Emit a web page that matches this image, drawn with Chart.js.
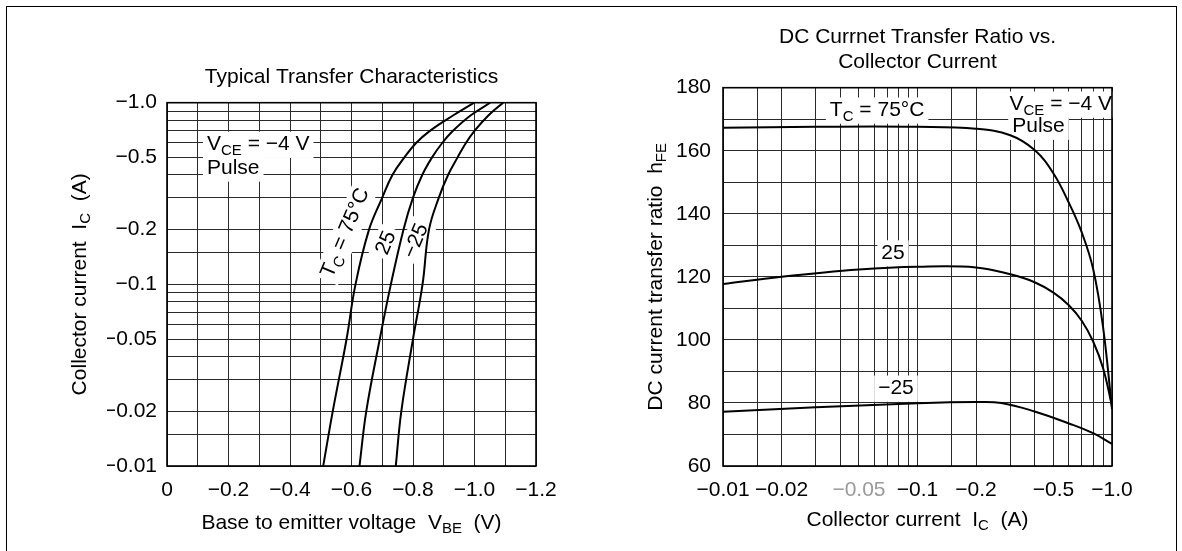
<!DOCTYPE html>
<html>
<head>
<meta charset="utf-8">
<script src="https://cdn.jsdelivr.net/npm/chart.js@4.4.1/dist/chart.umd.min.js"></script>
<style>
  html, body { margin: 0; padding: 0; background: #fff; }
  #wrap { position: relative; width: 1182px; height: 551px; overflow: hidden; }
  #frame { position: absolute; left: 6px; top: 6px; width: 1169px; height: 600px;
           border: 1.5px solid #000; border-bottom: none; }
  canvas { position: absolute; left: 0; top: 0; }
</style>
</head>
<body>
<div id="wrap">
  <div id="frame"></div>
  <canvas id="left" width="1182" height="551"></canvas>
  <canvas id="right" width="1182" height="551"></canvas>
</div>
<script>
const FONT = '"Liberation Sans", Arial, Helvetica, sans-serif';
const SIZE = 21;

// --- Typical transfer characteristics: |VBE| (V) vs |IC| (A) ---
const icPts = [0.01, 0.02, 0.05, 0.1, 0.2, 0.3, 0.4, 0.5, 0.6, 0.7, 0.85, 1.0];
const vbe75 = [0.508, 0.539, 0.584, 0.613, 0.657, 0.700, 0.733, 0.772, 0.810, 0.855, 0.930, 0.999];
const vbe25 = [0.626, 0.648, 0.692, 0.728, 0.769, 0.800, 0.830, 0.862, 0.895, 0.930, 0.987, 1.051];
const vbeM25 = [0.744, 0.762, 0.800, 0.831, 0.852, 0.884, 0.914, 0.945, 0.972, 1.000, 1.045, 1.093];

// --- DC current transfer ratio: hFE vs |IC| (A) ---
const ic75 = [0.01, 0.03, 0.1, 0.2, 0.3, 0.4, 0.5, 0.6, 0.7, 0.8, 0.9, 1.0];
const hfe75 = [167.3, 167.6, 167.6, 167.0, 164.9, 160.2, 152.8, 143.5, 134.0, 122.5, 104, 78];
const ic25 = [0.01, 0.02, 0.05, 0.1, 0.2, 0.3, 0.4, 0.5, 0.6, 0.7, 0.8, 0.9, 1.0];
const hfe25 = [117.7, 120.0, 122.3, 123.2, 123.0, 120.8, 118.3, 115.0, 111.0, 106.0, 99.5, 91.0, 79.0];
const icM25 = [0.01, 0.03, 0.1, 0.2, 0.27, 0.4, 0.6, 0.8, 1.0];
const hfeM25 = [77.2, 78.6, 79.9, 80.3, 80.0, 77.3, 73.5, 70.4, 67.0];

// grid / tick values
const icGrid = [0.01, 0.015, 0.02, 0.03, 0.04, 0.05, 0.06, 0.07, 0.08, 0.09,
                0.1, 0.15, 0.2, 0.3, 0.4, 0.5, 0.6, 0.7, 0.8, 0.9, 1.0];
const icLabels = [0.01, 0.02, 0.05, 0.1, 0.2, 0.5, 1.0];

function pts(xs, ys) { return xs.map((x, i) => ({ x: x, y: ys[i] })); }

function icLabel(v) {
  if (!icLabels.some(l => Math.abs(l - v) < 1e-9)) return '';
  return '\u2212' + (v === 1 ? '1.0' : String(v));
}

// draw text with subscripts; parts = [[text, isSub], ...]
function rich(ctx, parts, x, y, align) {
  const sub = Math.round(SIZE * 0.72);
  let w = 0;
  parts.forEach(p => {
    ctx.font = (p[1] ? sub : SIZE) + 'px ' + FONT;
    p.w = ctx.measureText(p[0]).width;
    w += p.w;
  });
  let cx = align === 'center' ? x - w / 2 : (align === 'right' ? x - w : x);
  ctx.textAlign = 'left';
  ctx.textBaseline = 'middle';
  parts.forEach(p => {
    ctx.font = (p[1] ? sub : SIZE) + 'px ' + FONT;
    ctx.fillText(p[0], cx, y + (p[1] ? SIZE * 0.3 : 0));
    cx += p.w;
  });
  return w;
}

function measure(ctx, parts) {
  const sub = Math.round(SIZE * 0.72);
  let w = 0;
  parts.forEach(p => { ctx.font = (p[1] ? sub : SIZE) + 'px ' + FONT; w += ctx.measureText(p[0]).width; });
  return w;
}

// labels inside the plot, with a white box that cuts the grid
function drawNotes(chart, notes) {
  const ctx = chart.ctx;
  const xs = chart.scales.x, ys = chart.scales.y;
  // boxes first, then all texts, so no box hides a neighbour's subscript
  ['box', 'text'].forEach(pass => {
    notes.forEach(n => {
      const px = xs.getPixelForValue(n.x), py = ys.getPixelForValue(n.y);
      const w = measure(ctx, n.parts);
      const left = n.align === 'left' ? 0 : -w / 2;
      ctx.save();
      ctx.translate(px, py);
      if (n.rot) ctx.rotate(n.rot * Math.PI / 180);
      if (pass === 'box') {
        ctx.fillStyle = '#fff';
        ctx.fillRect(left - 4, -SIZE * 0.6, w + 8, SIZE * 1.25);
      } else {
        ctx.fillStyle = '#000';
        rich(ctx, n.parts, left, 0, 'left');
      }
      ctx.restore();
    });
  });
}

function decor(opts) {
  return {
    id: 'decor',
    beforeDatasetsDraw(chart) { drawNotes(chart, opts.notes); },
    afterDraw(chart) {
      const ctx = chart.ctx, a = chart.chartArea;
      ctx.save();
      ctx.strokeStyle = '#000';
      ctx.lineWidth = 1.6;
      ctx.strokeRect(a.left, a.top, a.right - a.left, a.bottom - a.top);
      ctx.fillStyle = '#000';
      const cx = (a.left + a.right) / 2;
      opts.title.forEach((t, i) => rich(ctx, [[t]], cx, opts.titleY + i * 25, 'center'));
      rich(ctx, opts.xTitle, cx, opts.xTitleY, 'center');
      ctx.translate(opts.yTitleX, (a.top + a.bottom) / 2);
      ctx.rotate(-Math.PI / 2);
      rich(ctx, opts.yTitle, 0, 0, 'center');
      ctx.restore();
    }
  };
}

const tickFont = { family: FONT, size: SIZE };
const gridStyle = { color: '#2a2a2a', lineWidth: 1, drawTicks: false };

function lineSet(data) {
  return {
    data: data, borderColor: '#000', borderWidth: 2, pointRadius: 0,
    fill: false, tension: 0.4
  };
}

// ---------- left chart ----------
new Chart(document.getElementById('left'), {
  type: 'line',
  data: {
    datasets: [
      lineSet(pts(vbe75, icPts)),
      lineSet(pts(vbe25, icPts)),
      lineSet(pts(vbeM25, icPts))
    ]
  },
  options: {
    responsive: false,
    devicePixelRatio: 1,
    animation: false,
    layout: { padding: { left: 107, right: 646, top: 102.7, bottom: 35 } },
    plugins: { legend: { display: false }, tooltip: { enabled: false } },
    scales: {
      x: {
        type: 'linear', min: 0, max: 1.2,
        grid: gridStyle, border: { display: false },
        afterFit: s => { s.height = 50; },
        ticks: {
          stepSize: 0.1, autoSkip: false, maxRotation: 0, padding: 12,
          font: tickFont, color: '#000',
          callback: v => {
            const n = Math.round(v * 10);
            if (n % 2 !== 0) return '';
            return n === 0 ? '0' : '\u2212' + (n / 10).toFixed(1);
          }
        }
      },
      y: {
        type: 'logarithmic', min: 0.01, max: 1,
        grid: gridStyle, border: { display: false },
        afterFit: s => { s.width = 60; },
        afterBuildTicks: s => { s.ticks = icGrid.map(v => ({ value: v })); },
        ticks: { autoSkip: false, padding: 10, font: tickFont, color: '#000', callback: icLabel }
      }
    }
  },
  plugins: [decor({
    title: ['Typical Transfer Characteristics'], titleY: 77,
    xTitle: [['Base to emitter voltage  V'], ['BE', 1], ['  (V)']], xTitleY: 523,
    yTitle: [['Collector current  I'], ['C', 1], ['  (A)']], yTitleX: 80,
    notes: [
      { parts: [['V'], ['CE', 1], [' = \u22124 V']], x: 0.13, y: 0.59, align: 'left' },
      { parts: [['Pulse']], x: 0.13, y: 0.437, align: 'left' },
      { parts: [['T'], ['C', 1], [' = 75\u00b0C']], x: 0.58, y: 0.192, rot: -67 },
      { parts: [['25']], x: 0.713, y: 0.169, rot: -67 },
      { parts: [['\u221225']], x: 0.81, y: 0.173, rot: -67 }
    ]
  })]
});

// ---------- right chart ----------
new Chart(document.getElementById('right'), {
  type: 'line',
  data: {
    datasets: [
      lineSet(pts(ic75, hfe75)),
      lineSet(pts(ic25, hfe25)),
      lineSet(pts(icM25, hfeM25))
    ]
  },
  options: {
    responsive: false,
    devicePixelRatio: 1,
    animation: false,
    layout: { padding: { left: 663, right: 70, top: 87.7, bottom: 35 } },
    plugins: { legend: { display: false }, tooltip: { enabled: false } },
    scales: {
      x: {
        type: 'logarithmic', min: 0.01, max: 1,
        grid: gridStyle, border: { display: false },
        afterFit: s => { s.height = 50; },
        afterBuildTicks: s => { s.ticks = icGrid.map(v => ({ value: v })); },
        ticks: {
          autoSkip: false, maxRotation: 0, padding: 12, font: tickFont,
          color: c => (c.tick && Math.abs(c.tick.value - 0.05) < 1e-9) ? '#9a9a9a' : '#000',
          callback: icLabel
        }
      },
      y: {
        type: 'linear', min: 60, max: 180,
        grid: gridStyle, border: { display: false },
        afterFit: s => { s.width = 60; },
        ticks: {
          stepSize: 10, autoSkip: false, padding: 12, font: tickFont, color: '#000',
          callback: v => (v % 20 === 0 ? String(v) : '')
        }
      }
    }
  },
  plugins: [decor({
    title: ['DC Currnet Transfer Ratio vs.', 'Collector Current'], titleY: 37,
    xTitle: [['Collector current  I'], ['C', 1], ['  (A)']], xTitleY: 520,
    yTitle: [['DC current transfer ratio  h'], ['FE', 1]], yTitleX: 656,
    notes: [
      { parts: [['T'], ['C', 1], [' = 75\u00b0C']], x: 0.062, y: 172.9 },
      { parts: [['V'], ['CE', 1], [' = \u22124 V']], x: 0.297, y: 174.8, align: 'left' },
      { parts: [['Pulse']], x: 0.307, y: 167.8, align: 'left' },
      { parts: [['25']], x: 0.0748, y: 127.6 },
      { parts: [['\u221225']], x: 0.0775, y: 84.7 }
    ]
  })]
});
</script>
</body>
</html>
